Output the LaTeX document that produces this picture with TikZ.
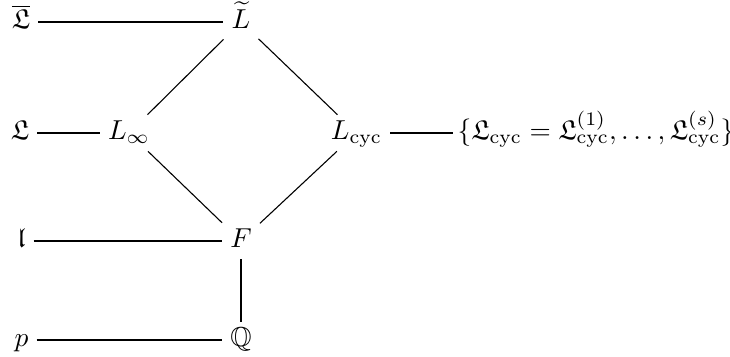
\documentclass[tikz,border=0pt]{standalone}
\usepackage{amsmath,amssymb}
\begin{document}
\begin{tikzpicture}[x=0.365pt,y=-0.365pt,
  obj/.style={inner xsep=2.8pt, inner ysep=3pt, text height=6pt, text depth=1pt},
  heavy/.style={line width=1pt},
  lite/.style={line width=0.4pt}]
\useasboundingbox (0,0) rectangle (730,356);
% left column
\node[obj] (Lbar) at (21,22)  {$\overline{\mathfrak{L}}$};
\node[obj] (Lfr)  at (20,133) {$\mathfrak{L}$};
\node[obj] (lfr)  at (21.5,241) {$\mathfrak{l}$};
\node[obj] (p)    at (21.5,340) {$p$};
% diamond
\node[obj] (Lt)   at (241,22)  {$\widetilde{L}$};
\node[obj] (Linf) at (129,133) {$L_\infty$};
\node[obj] (Lcyc) at (356.5,133) {$L_{\mathrm{cyc}}$};
\node[obj] (F)    at (241,241) {$F$};
\node[obj] (Q)    at (241,340) {$\mathbb{Q}$};
\node[obj,inner xsep=1.5pt,anchor=west] (set) at (453,133)
  {$\{\mathfrak{L}_{\mathrm{cyc}}=\mathfrak{L}^{(1)}_{\mathrm{cyc}},\dots,\mathfrak{L}^{(s)}_{\mathrm{cyc}}\}$};
% heavy connectors
\draw[heavy] (Lbar) -- (Lt);
\draw[heavy] (Lfr) -- (Linf);
\draw[heavy] (Lcyc) -- (set);
\draw[heavy] (lfr) -- (F);
\draw[heavy] (p) -- (Q);
\draw[heavy] (F) -- (Q);
% thin diagonals
\draw[lite] (Lt) -- (Linf);
\draw[lite] (Lt) -- (Lcyc);
\draw[lite] (Linf) -- (F);
\draw[lite] (Lcyc) -- (F);
\end{tikzpicture}
\end{document}
